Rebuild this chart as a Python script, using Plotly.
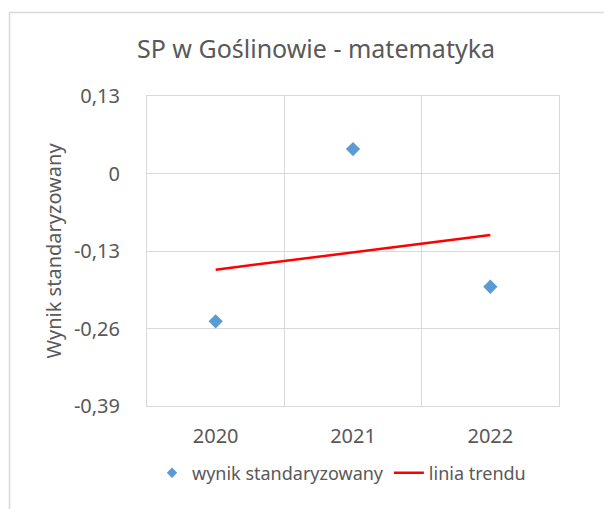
import numpy as np
import plotly.graph_objects as go

years = ["2020", "2021", "2022"]
wynik = [-0.248, 0.041, -0.19]
y_tick_vals = [0.13, 0, -0.13, -0.26, -0.39]
y_tick_text = ["0,13", "0", "-0,13", "-0,26", "-0,39"]

xpos = np.arange(len(years))
slope, intercept = np.polyfit(xpos, wynik, 1)
trend = slope * xpos + intercept

GRID = "#d9d9d9"
TXT = "#595959"
FONT = "Noto Sans"
BLUE = "#5b9bd5"

# page body adds an 8px offset; work in screenshot coords and shift
OFF = 8
W, H = 612 - OFF, 509 - OFF
L, T = 147 - OFF, 96 - OFF
R = W - (559 - OFF)
B = H - (406 - OFF)
pw, ph = W - L - R, H - T - B

def px(x):
    return (x - OFF - L) / pw

def py(y):
    return (H - B - (y - OFF)) / ph

fig = go.Figure()
fig.add_trace(go.Scatter(
    x=xpos, y=wynik, mode="markers", name="wynik standaryzowany",
    marker=dict(symbol="diamond", size=11, color=BLUE), showlegend=False,
))
fig.add_trace(go.Scatter(
    x=[None], y=[None], mode="markers", name="wynik standaryzowany",
    marker=dict(symbol="diamond", size=8, color=BLUE),
))
fig.add_trace(go.Scatter(
    x=xpos, y=trend, mode="lines", name="linia trendu",
    line=dict(color="#ff0000", width=2.5),
))

fig.update_layout(
    width=W, height=H,
    margin=dict(l=L, r=R, t=T, b=B),
    paper_bgcolor="white", plot_bgcolor="white",
    font=dict(family=FONT, color=TXT, size=18),
    title=dict(text="SP w Goślinowie - matematyka", x=(316 - OFF) / W, xanchor="center",
               y=1 - (49 - OFF) / H, yanchor="middle",
               font=dict(size=25, color=TXT, family=FONT)),
    showlegend=True,
    legend=dict(orientation="h", x=px(152), xanchor="left", y=py(473), yanchor="middle",
                font=dict(size=18, color=TXT, family=FONT),
                bgcolor="rgba(0,0,0,0)"),
    xaxis=dict(range=[-0.5, 2.5], tickvals=list(xpos), ticktext=years,
               showgrid=False, zeroline=False, showline=True, linecolor=GRID, mirror=True,
               ticks="", tickfont=dict(size=20, color=TXT), ticklabelstandoff=12,
               minor=dict(tickvals=[0.5, 1.5], showgrid=True, gridcolor=GRID, gridwidth=1)),
    yaxis=dict(range=[-0.39, 0.13], tickvals=y_tick_vals, ticktext=y_tick_text,
               showgrid=True, gridcolor=GRID, gridwidth=1, zeroline=False,
               showline=True, linecolor=GRID, mirror=True, ticks="",
               tickfont=dict(size=20, color=TXT), ticklabelstandoff=22,
               title=dict(text="Wynik standaryzowany", font=dict(size=20, color=TXT), standoff=6)),
    shapes=[
        dict(type="rect", xref="paper", yref="paper", x0=px(9.5), x1=px(700),
             y0=py(600), y1=py(12.5), line=dict(color=GRID, width=1.5), layer="below"),
    ],
)

fig.write_html("out.html")
